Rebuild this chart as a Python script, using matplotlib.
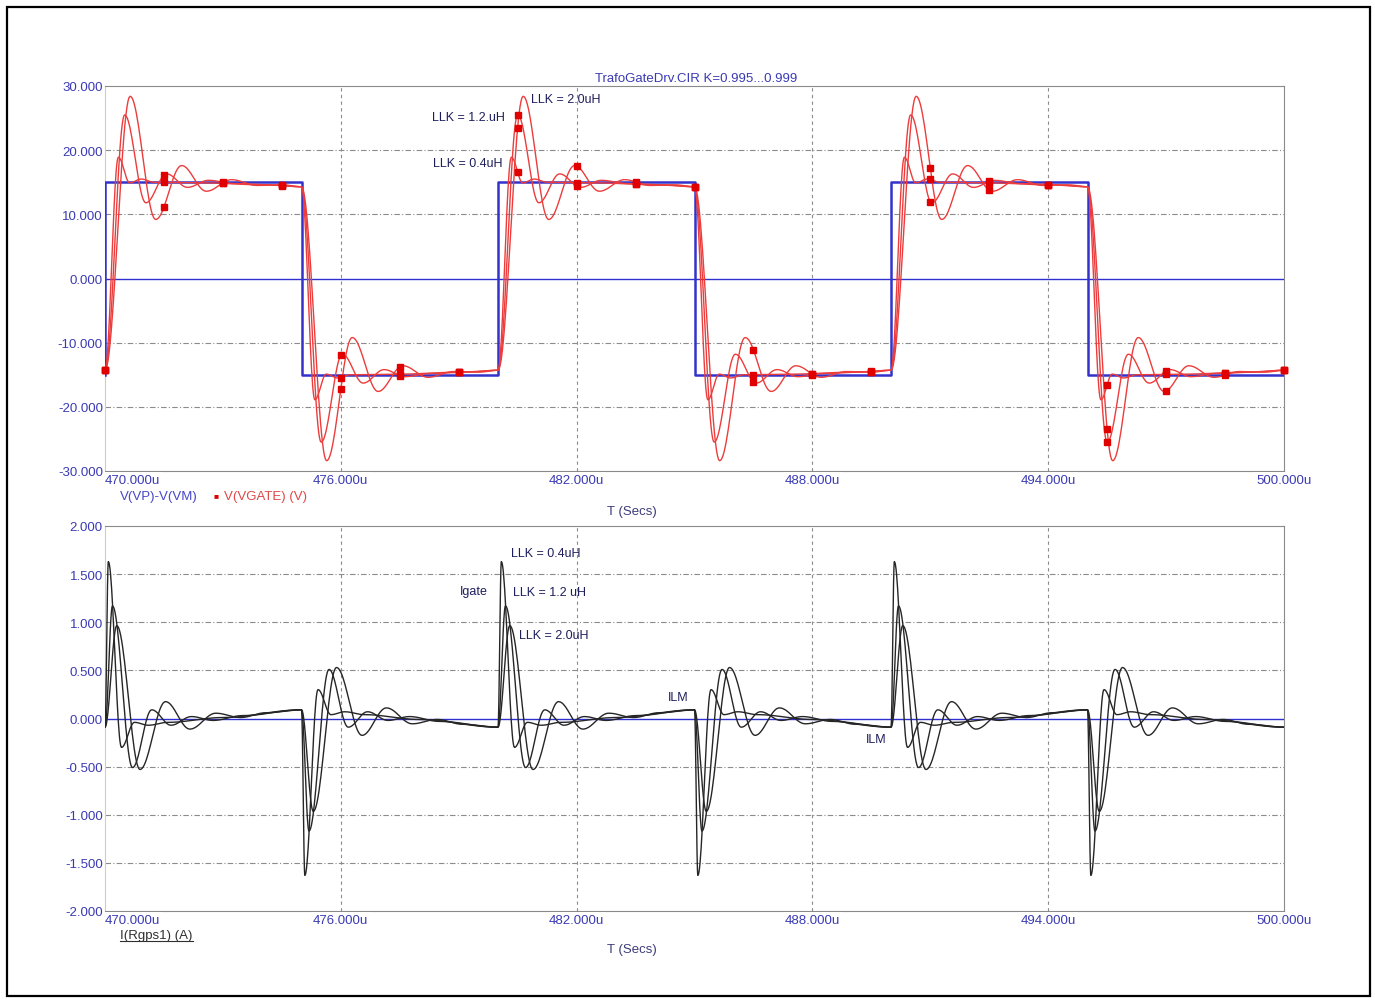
import numpy as np
import matplotlib
matplotlib.use("Agg")
import matplotlib.pyplot as plt
from matplotlib.lines import Line2D
from matplotlib.patches import Rectangle

plt.rcParams["font.family"] = ["Liberation Sans", "DejaVu Sans"]

# ── data (times in us) ────────────────────────────────────────────────────
EDGES = [470, 475, 480, 485, 490, 495]      # rise, fall, rise, ...
T_END = 500
LEVEL = 15.0                                 # V(VP)-V(VM) square, +/-15 V
MARK_STEP = 1.5                              # marker spacing on V(VGATE)

# V(VGATE) after a rising edge: offset from edge, level (falling = negated)
VG = {
    "0.4": ([0.0, 0.34, 0.63, 0.92, 1.25, 2.5, 4.0, 5.0],
            [-14.3, 18.9, 14.9, 15.5, 15.0, 14.9, 14.6, 14.3]),
    "1.2": ([0.0, 0.50, 1.04, 1.57, 2.10, 2.63, 3.3, 4.2, 5.0],
            [-14.3, 25.5, 11.8, 16.3, 14.2, 15.3, 14.8, 14.6, 14.3]),
    "2.0": ([0.0, 0.64, 1.29, 1.95, 2.58, 3.22, 3.87, 4.5, 5.0],
            [-14.3, 28.4, 9.2, 17.6, 13.6, 15.4, 14.5, 14.6, 14.3]),
}

# I(Rgps1) after a rising edge
IG = {
    "0.4": ([0.0, 0.085, 0.42, 0.75, 1.1, 1.6, 3.0, 5.0],
            [-0.09, 1.63, -0.30, -0.04, -0.07, -0.04, 0.01, 0.09]),
    "1.2": ([0.0, 0.19, 0.70, 1.19, 1.68, 2.2, 2.75, 3.5, 5.0],
            [-0.09, 1.17, -0.51, 0.09, -0.07, 0.02, -0.02, 0.03, 0.09]),
    "2.0": ([0.0, 0.30, 0.89, 1.54, 2.16, 2.82, 3.45, 4.1, 5.0],
            [-0.09, 0.965, -0.53, 0.175, -0.11, 0.055, 0.01, 0.06, 0.09]),
}

X_TICKS = [470, 476, 482, 488, 494, 500]
V_TICKS = [30, 20, 10, 0, -10, -20, -30]
I_TICKS = [2.0, 1.5, 1.0, 0.5, 0.0, -0.5, -1.0, -1.5, -2.0]

BLUE = "#3a3ab4"
NAVY = "#1e1e5c"
GRID = "#8c8c8c"


def waveform(offsets, values):
    """Chain the edge response over all edges, negating on falling edges."""
    ts, vs = [], []
    for i, e in enumerate(EDGES):
        s = 1 if i % 2 == 0 else -1
        for k, (o, v) in enumerate(zip(offsets, values)):
            if ts and k == 0:
                continue
            ts.append(e + o)
            vs.append(s * v)
    # smooth between read points with half-cosine segments
    xs, ys = [], []
    u = np.linspace(0, 1, 24, endpoint=False)
    w = (1 - np.cos(np.pi * u)) / 2
    for i in range(len(ts) - 1):
        xs.append(ts[i] + (ts[i + 1] - ts[i]) * u)
        ys.append(vs[i] + (vs[i + 1] - vs[i]) * w)
    xs.append([ts[-1]])
    ys.append([vs[-1]])
    return np.concatenate(xs), np.concatenate(ys)


def frame(ax, ticks, lo, hi):
    ax.set_xlim(470, T_END)
    ax.set_ylim(lo, hi)
    for y in ticks[1:-1]:
        if y != 0:
            ax.axhline(y, color=GRID, lw=0.8, dashes=(5, 2, 1, 2), zorder=0)
    for x in X_TICKS[1:-1]:
        ax.axvline(x, color=GRID, lw=0.8, dashes=(3, 3), zorder=0)
    ax.axhline(0, color="#3030d0", lw=1.0, zorder=1)
    for side in ("top", "bottom", "right"):
        ax.spines[side].set_color("#8a8a8a")
    ax.spines["left"].set_color("#cfcfc0")
    ax.set_xticks([])
    ax.set_yticks(ticks)
    ax.set_yticklabels([f"{t:.3f}" for t in ticks], color=BLUE, fontsize=9.5)
    ax.tick_params(axis="y", length=0, pad=1.5)
    for x in X_TICKS:
        ax.text(x, -0.023, f"{x:.3f}u", transform=ax.get_xaxis_transform(),
                ha="left" if x == 470 else "center", va="center",
                color=BLUE, fontsize=9.5, zorder=10, clip_on=False,
                bbox=dict(fc="white", ec="none", pad=1.5))


W, H = 1375, 1003
fig = plt.figure(figsize=(W / 100, H / 100), dpi=100)
ax1 = fig.add_axes([105 / W, 1 - 472 / H, 1179 / W, 385 / H])
ax2 = fig.add_axes([105 / W, 1 - 912 / H, 1179 / W, 385 / H])

# ── top: gate voltage ─────────────────────────────────────────────────────
frame(ax1, V_TICKS, -30, 30)
sq_t = [470]
sq_v = [-LEVEL]
for i, e in enumerate(EDGES):
    s = LEVEL if i % 2 == 0 else -LEVEL
    sq_t += [e, e]
    sq_v += [-s, s]
sq_t.append(T_END)
sq_v.append(sq_v[-1])
ax1.plot(sq_t[1:], sq_v[1:], color="#3333cc", lw=1.8, zorder=3)

marks = np.arange(470, T_END + 0.01, MARK_STEP)
for key, (o, v) in VG.items():
    x, y = waveform(o, v)
    ax1.plot(x, y, color="#ec3c3c", lw=1.0, zorder=4)
    ax1.plot(marks, np.interp(marks, x, y), "s", color="#e00000", ms=5,
             zorder=5, clip_on=False)

ax1.text(0.5013, 1.021, "TrafoGateDrv.CIR K=0.995...0.999",
         transform=ax1.transAxes, ha="center", va="center",
         color=BLUE, fontsize=9.5)
ax1.text(480.84, 28.0, "LLK = 2.0uH", color=NAVY, fontsize=9, va="center")
ax1.text(478.32, 25.17, "LLK = 1.2.uH", color=NAVY, fontsize=9, va="center")
ax1.text(478.35, 18.0, "LLK = 0.4uH", color=NAVY, fontsize=9, va="center")

# ── bottom: gate current ──────────────────────────────────────────────────
frame(ax2, I_TICKS, -2, 2)
for key, (o, v) in IG.items():
    x, y = waveform(o, v)
    ax2.plot(x, y, color="#262626", lw=1.0, zorder=4)

ax2.text(480.33, 1.717, "LLK = 0.4uH", color=NAVY, fontsize=9, va="center")
ax2.text(479.03, 1.325, "Igate", color=NAVY, fontsize=9, va="center")
ax2.text(480.38, 1.314, "LLK = 1.2 uH", color=NAVY, fontsize=9, va="center")
ax2.text(480.53, 0.868, "LLK = 2.0uH", color=NAVY, fontsize=9, va="center")
ax2.text(484.33, 0.223, "ILM", color=NAVY, fontsize=9, va="center")
ax2.text(489.36, -0.213, "ILM", color=NAVY, fontsize=9, va="center")

# ── labels and legend outside the axes ────────────────────────────────────
def fx(px):
    return px / W


def fy(py):
    return 1 - py / H


fig.text(fx(120), fy(497), "V(VP)-V(VM)", color="#4646c8", fontsize=9.5,
         va="center")
fig.text(fx(214), fy(497), "■", color="#e00000", fontsize=6, va="center")
fig.text(fx(224), fy(497), "V(VGATE) (V)", color="#e04848", fontsize=9.5,
         va="center")
fig.text(fx(632), fy(512), "T (Secs)", color="#3c3c78", fontsize=9.5,
         ha="center", va="center")
fig.text(fx(632), fy(950), "T (Secs)", color="#3c3c78", fontsize=9.5,
         ha="center", va="center")
fig.text(fx(120), fy(936), "I(Rgps1) (A)", color="#303030", fontsize=9.5,
         va="center")
fig.add_artist(Line2D([fx(120), fx(193)], [fy(942), fy(942)],
                      color="#303030", lw=0.8))

fig.add_artist(Rectangle((fx(7), fy(997)), 1363 / W, 989 / H, fill=False,
                         ec="black", lw=1.6))

fig.savefig("out.png", dpi=100)
